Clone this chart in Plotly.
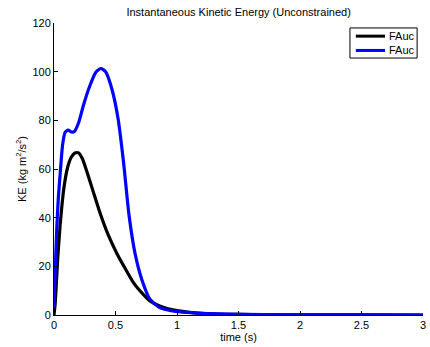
import plotly.graph_objects as go

time_black = [0, 0.01, 0.03, 0.05, 0.08, 0.11, 0.14, 0.17, 0.20, 0.23, 0.27, 0.32, 0.375, 0.44, 0.51, 0.58, 0.65, 0.72, 0.78, 0.85, 0.92, 1.0, 1.1, 1.2, 1.35, 1.5, 1.7, 2.0, 2.5, 3.0]
ke_black = [0, 5, 23, 37, 52, 60.5, 64.8, 66.6, 66.6, 64.3, 58.5, 50.5, 41.8, 33, 25.4, 19, 13, 8.8, 5.8, 3.9, 2.7, 1.8, 1.1, 0.7, 0.4, 0.25, 0.12, 0.05, 0.02, 0.01]

time_blue = [0, 0.01, 0.022, 0.035, 0.05, 0.07, 0.09, 0.115, 0.14, 0.165, 0.2, 0.24, 0.29, 0.34, 0.38, 0.42, 0.47, 0.52, 0.565, 0.61, 0.66, 0.715, 0.78, 0.86, 0.95, 1.05, 1.2, 1.4, 1.7, 2.0, 2.5, 3.0]
ke_blue = [3, 18, 35, 48, 58, 70, 75, 76, 75.2, 75.4, 79, 86.3, 94, 99.8, 101.3, 100, 93, 81, 63, 41, 25, 14.4, 6.5, 3, 1.8, 1.2, 0.7, 0.35, 0.15, 0.08, 0.03, 0.01]

series_names = ["FAuc", "FAuc"]
series_colors = ["black", "#0000FF"]

x_ticks = [0, 0.5, 1, 1.5, 2, 2.5, 3]
x_tick_labels = ["0", "0.5", "1", "1.5", "2", "2.5", "3"]
y_ticks = [0, 20, 40, 60, 80, 100, 120]

fig = go.Figure()
for (t, ke, name, col) in [(time_black, ke_black, series_names[0], series_colors[0]),
                           (time_blue, ke_blue, series_names[1], series_colors[1])]:
    fig.add_trace(go.Scatter(x=t, y=ke, mode="lines", name=name, showlegend=False,
                             line=dict(color=col, width=3.2, shape="spline", smoothing=0.6)))

# compact MATLAB-style legend box (paper coordinates)
shapes = [dict(type="rect", xref="paper", yref="paper", x0=0.802, x1=0.984, y0=0.880, y1=0.983,
               line=dict(color="black", width=1), fillcolor="white", layer="above")]
annotations = []
for i, (name, col) in enumerate(zip(series_names, series_colors)):
    yy = 0.955 - i * 0.049
    shapes.append(dict(type="line", xref="paper", yref="paper", x0=0.818, x1=0.897, y0=yy, y1=yy,
                       line=dict(color=col, width=3), layer="above"))
    annotations.append(dict(text=name, xref="paper", yref="paper", x=0.903, y=yy,
                            xanchor="left", yanchor="middle", showarrow=False,
                            font=dict(size=11, color="black")))

font = "Liberation Sans, Arial, Helvetica, sans-serif"
fig.update_layout(
    width=430, height=347,
    margin=dict(l=54, r=7, t=23, b=32, autoexpand=False),
    paper_bgcolor="white", plot_bgcolor="white",
    font=dict(family=font, size=11, color="black"),
    title=dict(text="Instantaneous Kinetic Energy (Unconstrained)", x=0.555, xanchor="center",
               y=0.965, yanchor="middle", font=dict(size=11)),
    showlegend=False,
    hovermode=False,
    shapes=shapes,
    annotations=annotations,
    xaxis=dict(range=[0, 3], tickvals=x_ticks, ticktext=x_tick_labels, automargin=False,
               showgrid=False, zeroline=False, showline=True, linecolor="black", linewidth=1,
               ticks="inside", ticklen=4, tickcolor="black", mirror=False,
               title=dict(text="time (s)", standoff=3, font=dict(size=11))),
    yaxis=dict(range=[0, 120], tickvals=y_ticks, automargin=False,
               showgrid=False, zeroline=False, showline=True, linecolor="black", linewidth=1,
               ticks="inside", ticklen=4, tickcolor="black", mirror=False,
               title=dict(text="KE (kg m<sup>2</sup>/s<sup>2</sup>)", standoff=3, font=dict(size=11))),
)

fig.write_html("out.html", config={"displayModeBar": False},
               post_script="document.body.style.margin='0';document.body.style.overflow='hidden';")
